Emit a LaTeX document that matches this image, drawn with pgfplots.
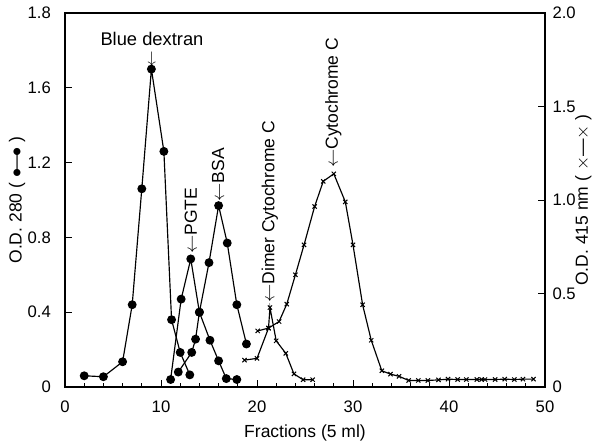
\documentclass[border=0pt]{standalone}
\usepackage{fontspec}
\setmainfont{Liberation Sans}
\usepackage{pgfplots}
\pgfplotsset{compat=1.18}
\usetikzlibrary{calc}

% one reference pixel = 0.6pt
\pgfplotsset{
  odaxis/.style={
    scale only axis,
    width=288pt, height=224.4pt,
    xmin=0, xmax=50, ymin=0, ymax=2,
    tick align=inside,
    major tick length=4pt, minor tick length=2.5pt,
    tick style={black, line width=0.6pt},
    axis line style={line width=0.9pt},
    tick label style={font=\fontsize{10}{12}\selectfont},
    label style={font=\fontsize{10.5}{12}\selectfont},
    /pgf/number format/assume math mode=true,
  },
  dots/.style={black, line width=0.7pt, mark=*, mark size=2.3pt},
  crosses/.style={black, line width=0.7pt, mark=x, mark size=1.8pt, mark options={line width=0.6pt}},
}
\tikzset{note/.style={rotate=90, anchor=west, inner sep=0pt, font=\fontsize{10.5}{12}\selectfont}}

\begin{document}
\begin{tikzpicture}
\begin{axis}[odaxis, name=ax,
  xtick={0,10,20,30,40,50}, minor x tick num=4,
  xtick pos=bottom, ytick pos=left,
  ytick={0,0.4,0.8,1.2,1.6,2.0},
  yticklabels={0,0.4,0.8,1.2,1.6,1.8},
  x tick label style={yshift=-5pt},
  y tick label style={xshift=-5pt},
  xlabel={Fractions (5 ml)},
  ylabel={O.D. 280 ( $\bullet$\kern-1.5pt---\kern-1.5pt$\bullet$ )},
  ylabel style={at={(rel axis cs:-0.1,0.5)}, anchor=center},
  clip=false]
% Blue dextran
\addplot[dots] coordinates {(2,0.06)(4,0.055)(6,0.135)(7,0.44)(8,1.06)(9,1.70)(10.3,1.26)(11.1,0.36)(12,0.185)(13,0.065)};
% PGTE
\addplot[dots] coordinates {(11,0.04)(12.1,0.47)(13.1,0.685)(14,0.40)(15.1,0.25)(16,0.14)(16.8,0.045)(17.9,0.04)};
% BSA
\addplot[dots] coordinates {(11.8,0.08)(13.2,0.185)(13.6,0.256)(14,0.40)(15,0.665)(16,0.97)(16.9,0.77)(17.9,0.44)(18.9,0.23)};
% Cytochrome C
\addplot[crosses] coordinates {(18.7,0.144)(20,0.153)(21.2,0.315)(22.3,0.35)(23.1,0.443)(24,0.60)(24.9,0.76)(26,0.965)(26.9,1.10)(28,1.14)(29.2,0.99)(30,0.76)(31,0.44)(31.9,0.25)(33,0.087)(33.9,0.069)(34.8,0.057)(35.8,0.035)(36.8,0.035)(37.8,0.035)(38.9,0.038)(39.9,0.042)(40.9,0.04)(41.8,0.04)(42.9,0.04)(43.4,0.04)(43.75,0.04)(44.8,0.04)(45.8,0.042)(46.8,0.04)(47.7,0.042)(48.8,0.042)};
% Dimer cytochrome C
\addplot[crosses] coordinates {(20.07,0.30)(21.2,0.315)(21.35,0.425)(22,0.247)(23,0.18)(23.85,0.07)(24.8,0.039)(25.8,0.039)};

\node[font=\fontsize{11}{12}\selectfont] at (axis cs:9.06,1.86) {Blue dextran};
\node[inner sep=0pt] at (axis cs:9.05,1.75) {$\downarrow$};
\node[note] at (axis cs:13.1,0.71) {$\leftarrow$PGTE};
\node[note] at (axis cs:15.95,0.99) {$\leftarrow$BSA};
\node[note] at (axis cs:21.35,0.45) {$\leftarrow$Dimer Cytochrome C};
\node[note] at (axis cs:27.95,1.17) {$\leftarrow$Cytochrome C};
\end{axis}
\begin{axis}[odaxis,
  axis x line=none,
  axis y line*=right,
  ytick={0,0.5,1.0,1.5,2.0},
  yticklabels={0,0.5,1.0,1.5,2.0},
  y tick label style={xshift=1pt},
  ylabel={O.D. 415 nm ( $\times$---$\times$ )},
  ylabel style={at={(rel axis cs:1.08,0.5)}, anchor=center, rotate=0}]
\addplot[draw=none] coordinates {(0,0)};
\end{axis}
\pgfresetboundingbox
\path ($(ax.south west)+(-39pt,-35.4pt)$) rectangle ($(ax.north east)+(32.4pt,7.8pt)$);
\end{tikzpicture}
\end{document}
